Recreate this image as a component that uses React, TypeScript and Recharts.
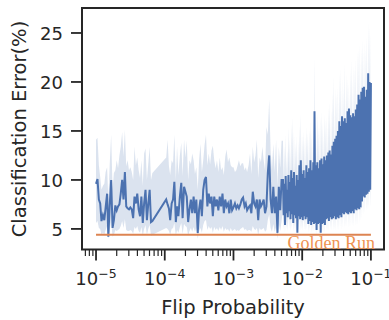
import React from 'react';
import { ComposedChart, Area, Line, XAxis, YAxis, ReferenceLine, ReferenceArea } from 'recharts';

// ---- Flip probability samples (x) ----
const flipDecade5 = [
  1.00e-5, 1.05e-5, 1.10e-5, 1.15e-5, 1.20e-5, 1.26e-5, 1.32e-5, 1.38e-5, 1.45e-5, 1.51e-5,
  1.58e-5, 1.66e-5, 1.74e-5, 1.82e-5, 1.91e-5, 2.00e-5, 2.09e-5, 2.19e-5, 2.29e-5, 2.40e-5,
  2.51e-5, 2.63e-5, 2.75e-5, 2.88e-5, 3.02e-5, 3.16e-5, 3.31e-5, 3.47e-5, 3.63e-5, 3.80e-5,
  3.98e-5, 4.17e-5, 4.37e-5, 4.57e-5, 4.79e-5, 5.01e-5, 5.25e-5, 5.50e-5, 5.75e-5, 6.03e-5,
  6.31e-5, 6.61e-5,
];
const meanDecade5 = [
  9.6, 10.1, 8.0, 7.6, 5.8, 6.4, 5.9, 7.2, 8.6, 4.2,
  7.3, 10.0, 5.1, 5.9, 7.4, 6.9, 7.3, 7.5, 8.6, 10.0,
  8.0, 10.8, 7.3, 7.1, 7.0, 7.2, 7.0, 6.1, 8.3, 7.6,
  8.6, 7.0, 6.3, 8.3, 5.6, 7.6, 9.0, 5.9, 7.5, 9.0,
  5.7, 5.8,
];
const lowDecade5 = [
  5.6, 5.8, 5.1, 5.0, 4.4, 4.6, 4.4, 4.9, 5.3, 4.0,
  4.9, 5.8, 4.2, 4.4, 4.9, 4.8, 4.9, 5.0, 5.3, 5.8,
  5.1, 6.0, 4.9, 4.8, 4.8, 4.9, 4.8, 4.5, 5.2, 5.0,
  5.3, 4.8, 4.6, 5.2, 4.3, 5.0, 5.4, 4.4, 5.0, 5.4,
  4.3, 4.4,
];
const highDecade5 = [
  14.1, 14.3, 11.5, 10.3, 9.0, 9.4, 9.6, 10.8, 11.3, 8.0,
  11.5, 14.6, 9.0, 10.7, 11.0, 12.0, 11.2, 12.5, 13.4, 14.9,
  12.4, 15.1, 11.4, 12.0, 11.0, 11.3, 10.8, 10.0, 13.4, 11.5,
  12.3, 11.0, 10.2, 12.0, 9.4, 12.7, 13.2, 10.0, 11.6, 13.4,
  10.0, 10.7,
];

const flipDecade4 = [
  1.05e-4, 1.10e-4, 1.15e-4, 1.20e-4, 1.26e-4, 1.32e-4, 1.38e-4, 1.45e-4, 1.51e-4, 1.58e-4,
  1.66e-4, 1.74e-4, 1.82e-4, 1.91e-4, 2.00e-4, 2.09e-4, 2.19e-4, 2.29e-4, 2.40e-4, 2.51e-4,
  2.63e-4, 2.75e-4, 2.88e-4, 3.02e-4, 3.16e-4, 3.31e-4, 3.47e-4, 3.63e-4, 3.80e-4, 3.98e-4,
  4.17e-4, 4.37e-4, 4.57e-4, 4.79e-4, 5.01e-4, 5.25e-4, 5.50e-4, 5.75e-4, 6.03e-4, 6.31e-4,
  6.61e-4, 6.92e-4, 7.24e-4, 7.59e-4, 7.94e-4, 8.32e-4, 8.71e-4, 9.12e-4, 9.55e-4,
];
const meanDecade4 = [
  8.0, 7.5, 7.1, 5.9, 7.6, 8.0, 9.8, 5.7, 7.3, 6.3,
  8.3, 9.7, 6.1, 9.3, 8.8, 8.3, 5.7, 7.0, 8.0, 6.6,
  8.3, 6.6, 8.0, 4.6, 7.0, 8.0, 6.3, 9.0, 10.0, 10.3,
  7.3, 8.6, 7.6, 8.3, 6.3, 8.3, 7.3, 8.0, 6.9, 8.3,
  7.3, 8.6, 6.6, 8.0, 7.3, 7.6, 6.6, 8.0, 6.9,
];
const lowDecade4 = [
  5.1, 5.0, 4.8, 4.4, 5.0, 5.1, 5.6, 4.3, 4.9, 4.6,
  5.2, 5.6, 4.5, 5.5, 5.3, 5.2, 4.3, 4.8, 5.1, 4.7,
  5.2, 4.7, 5.1, 4.0, 4.8, 5.1, 4.6, 5.4, 5.8, 5.9,
  4.9, 5.3, 5.0, 5.2, 4.6, 5.2, 4.9, 5.1, 4.8, 5.2,
  4.9, 5.3, 4.7, 5.1, 4.9, 5.0, 4.7, 5.1, 4.8,
];
const highDecade4 = [
  12.3, 14.1, 11.4, 10.5, 12.0, 11.7, 14.6, 10.0, 13.4, 10.5,
  12.5, 13.8, 10.4, 14.1, 12.3, 14.0, 10.0, 12.0, 11.6, 12.7,
  12.0, 10.6, 11.3, 9.0, 12.0, 13.7, 10.8, 12.0, 13.6, 14.6,
  11.5, 12.7, 11.6, 13.0, 13.5, 12.0, 11.2, 12.0, 10.8, 12.3,
  11.0, 11.3, 10.5, 12.4, 13.1, 11.8, 12.3, 11.5, 11.3,
];

const flipDecade3 = [
  1.00e-3, 1.05e-3, 1.10e-3, 1.15e-3, 1.20e-3, 1.26e-3, 1.32e-3, 1.38e-3, 1.45e-3, 1.51e-3,
  1.58e-3, 1.66e-3, 1.74e-3, 1.82e-3, 1.91e-3, 2.00e-3, 2.09e-3, 2.19e-3, 2.29e-3, 2.40e-3,
  2.51e-3, 2.63e-3, 2.75e-3, 2.88e-3, 3.02e-3, 3.16e-3, 3.31e-3, 3.47e-3, 3.63e-3, 3.80e-3,
  3.98e-3, 4.17e-3, 4.37e-3, 4.57e-3, 4.79e-3, 5.01e-3,
  5.25e-3, 5.37e-3, 5.50e-3, 5.62e-3, 5.75e-3, 5.89e-3, 6.03e-3, 6.17e-3, 6.31e-3, 6.46e-3,
  6.61e-3, 6.76e-3, 6.92e-3, 7.08e-3, 7.24e-3, 7.41e-3, 7.59e-3, 7.76e-3, 7.94e-3, 8.13e-3,
  8.32e-3, 8.51e-3, 8.71e-3, 8.91e-3, 9.12e-3, 9.33e-3, 9.55e-3, 9.77e-3,
];
const meanDecade3 = [
  7.2, 7.6, 7.1, 7.4, 7.1, 7.5, 8.0, 8.2, 7.3, 7.6,
  6.9, 7.2, 7.4, 6.6, 8.8, 7.6, 7.3, 8.0, 5.9, 8.0,
  7.3, 7.6, 8.0, 6.6, 7.3, 10.7, 12.5, 8.0, 6.6, 9.3,
  6.6, 8.3, 4.6, 9.3, 6.9, 10.0,
  10.0, 6.4, 9.6, 5.4, 10.4, 6.6, 9.0, 6.2, 10.5, 6.8,
  9.8, 6.0, 11.0, 6.5, 10.2, 5.6, 10.8, 6.4, 9.4, 6.1,
  10.5, 4.6, 10.0, 6.3, 11.5, 6.0, 12.0, 6.2,
];
const lowDecade3 = [
  4.9, 5.0, 4.8, 4.9, 4.8, 5.0, 5.1, 5.2, 4.9, 5.0,
  4.8, 4.9, 4.9, 4.7, 5.3, 5.0, 4.9, 5.1, 4.4, 5.1,
  4.9, 5.0, 5.1, 4.7, 4.9, 5.9, 6.5, 5.1, 4.7, 5.5,
  4.7, 5.2, 4.0, 5.5, 4.8, 5.8,
  7.0, 4.9, 6.8, 4.6, 7.2, 5.0, 6.4, 4.8, 7.3, 5.1,
  7.0, 4.8, 7.6, 5.0, 7.1, 4.7, 7.5, 5.0, 6.6, 4.8,
  7.3, 4.2, 7.0, 4.9, 7.9, 4.8, 8.2, 4.9,
];
const highDecade3 = [
  11.3, 10.8, 11.0, 11.5, 12.0, 11.4, 11.7, 11.7, 11.0, 11.3,
  10.8, 11.5, 12.7, 10.6, 13.4, 11.8, 12.5, 14.1, 10.2, 12.3,
  11.8, 13.4, 12.0, 11.0, 15.4, 14.6, 18.2, 13.0, 11.0, 13.7,
  10.8, 14.1, 9.4, 13.4, 11.2, 14.0,
  14.0, 9.5, 13.5, 8.6, 14.6, 9.8, 13.0, 9.4, 15.4, 10.0,
  14.2, 9.2, 15.8, 9.6, 16.4, 8.9, 15.0, 9.6, 13.8, 9.2,
  14.5, 8.0, 14.0, 9.4, 15.6, 9.1, 16.8, 9.3,
];

const flipDecade2 = [
  1.00e-2, 1.02e-2, 1.05e-2, 1.07e-2, 1.10e-2, 1.12e-2, 1.15e-2, 1.17e-2, 1.20e-2, 1.23e-2,
  1.26e-2, 1.29e-2, 1.32e-2, 1.35e-2, 1.38e-2, 1.41e-2, 1.45e-2, 1.48e-2, 1.51e-2, 1.55e-2,
  1.58e-2, 1.62e-2, 1.66e-2, 1.70e-2, 1.74e-2, 1.78e-2, 1.82e-2, 1.86e-2, 1.91e-2, 1.95e-2,
  2.00e-2, 2.04e-2, 2.09e-2, 2.14e-2, 2.19e-2, 2.24e-2, 2.29e-2, 2.34e-2, 2.40e-2, 2.45e-2,
  2.51e-2, 2.57e-2, 2.63e-2, 2.69e-2, 2.75e-2, 2.82e-2, 2.88e-2, 2.95e-2, 3.02e-2, 3.09e-2,
  3.16e-2, 3.24e-2, 3.31e-2, 3.39e-2, 3.47e-2, 3.55e-2, 3.63e-2, 3.72e-2, 3.80e-2, 3.89e-2,
  3.98e-2, 4.07e-2, 4.17e-2, 4.27e-2, 4.37e-2, 4.47e-2, 4.57e-2, 4.68e-2, 4.79e-2, 4.90e-2,
  5.01e-2, 5.13e-2, 5.25e-2, 5.37e-2, 5.50e-2, 5.62e-2, 5.75e-2, 5.89e-2, 6.03e-2, 6.17e-2,
  6.31e-2, 6.46e-2, 6.61e-2, 6.76e-2, 6.92e-2, 7.08e-2, 7.24e-2, 7.41e-2, 7.59e-2, 7.76e-2,
  7.94e-2, 8.13e-2, 8.32e-2, 8.51e-2, 8.71e-2, 8.91e-2, 9.12e-2, 9.33e-2, 9.55e-2, 9.77e-2,
  1.00e-1,
];
const meanDecade2 = [
  10.6, 5.9, 11.0, 6.3, 10.2, 6.0, 11.5, 6.2, 10.8, 5.5,
  11.2, 5.8, 12.0, 5.4, 11.0, 5.7, 11.8, 5.5, 17.0, 5.6,
  11.5, 4.9, 11.8, 5.5, 11.2, 5.6, 12.0, 4.6, 12.2, 5.5,
  11.6, 5.6, 12.4, 5.4, 12.0, 6.0, 12.5, 6.1, 12.8, 5.8,
  13.0, 6.2, 12.6, 6.0, 13.5, 6.1, 13.9, 6.3, 14.2, 6.0,
  14.5, 6.2, 15.0, 6.1, 16.0, 6.4, 15.5, 6.2, 16.5, 6.6,
  16.0, 6.5, 16.3, 6.7, 15.8, 6.6, 17.0, 6.5, 17.3, 6.7,
  16.6, 6.6, 16.4, 6.8, 16.8, 6.6, 16.5, 7.0, 17.2, 6.9,
  17.7, 7.1, 18.7, 7.0, 18.2, 7.2, 19.0, 7.8, 19.4, 8.3,
  19.5, 8.2, 18.5, 8.5, 19.2, 8.6, 20.9, 8.8, 20.0, 9.0,
  19.9,
];
const lowDecade2 = [
  7.4, 4.8, 7.6, 4.9, 7.2, 4.8, 7.9, 4.9, 7.5, 4.6,
  7.7, 4.7, 8.2, 4.5, 7.6, 4.7, 8.0, 4.6, 11.5, 4.6,
  7.9, 4.3, 8.0, 4.6, 7.7, 4.6, 8.2, 4.1, 8.3, 4.6,
  8.0, 4.6, 8.4, 4.5, 8.2, 4.8, 8.5, 4.8, 8.7, 4.7,
  8.8, 4.9, 8.6, 4.8, 9.2, 4.8, 9.4, 4.9, 9.6, 4.8,
  9.8, 4.9, 10.1, 4.8, 10.8, 5.0, 10.5, 4.9, 11.1, 5.1,
  10.8, 5.0, 11.0, 5.1, 10.7, 5.1, 11.5, 5.0, 11.7, 5.1,
  11.2, 5.1, 11.1, 5.2, 11.3, 5.1, 11.1, 5.3, 11.6, 5.3,
  11.9, 5.4, 12.6, 5.5, 12.3, 5.7, 12.8, 6.0, 13.1, 6.3,
  13.2, 6.5, 12.5, 6.7, 13.0, 6.8, 14.1, 7.0, 13.5, 7.2,
  13.4,
];
const highDecade2 = [
  14.5, 9.0, 15.0, 9.4, 14.4, 9.1, 15.5, 9.3, 14.8, 8.7,
  15.2, 9.0, 16.0, 8.6, 15.0, 8.9, 16.2, 8.7, 22.6, 8.8,
  16.0, 8.2, 17.0, 8.7, 15.5, 8.8, 16.5, 8.0, 17.1, 8.7,
  16.0, 8.8, 16.8, 8.6, 16.2, 9.1, 16.5, 9.2, 17.5, 9.0,
  18.0, 9.3, 17.2, 9.1, 19.0, 9.2, 20.7, 9.4, 19.5, 9.1,
  18.9, 9.3, 19.6, 9.2, 21.0, 9.6, 21.5, 9.3, 20.5, 9.8,
  19.5, 9.7, 22.0, 9.9, 21.0, 9.8, 20.5, 9.7, 20.0, 9.9,
  21.5, 9.8, 22.4, 10.0, 21.8, 9.8, 21.5, 10.2, 22.5, 10.1,
  23.3, 10.3, 23.5, 10.2, 24.0, 10.5, 23.6, 11.0, 24.5, 11.5,
  24.2, 11.4, 23.5, 11.7, 24.8, 11.8, 26.3, 12.0, 25.8, 12.2,
  25.3,
];

// ---- Golden run reference ----
const goldenRunError = 4.4;
const goldenRunRange = [1e-5, 1e-1];
const goldenRunLabel = 'Golden Run';

// ---- Axes ----
const xTicksMajor = [1e-5, 1e-4, 1e-3, 1e-2, 1e-1];
const xTicksMinor = [
  7e-6, 8e-6, 9e-6,
  2e-5, 3e-5, 4e-5, 5e-5, 6e-5, 7e-5, 8e-5, 9e-5,
  2e-4, 3e-4, 4e-4, 5e-4, 6e-4, 7e-4, 8e-4, 9e-4,
  2e-3, 3e-3, 4e-3, 5e-3, 6e-3, 7e-3, 8e-3, 9e-3,
  2e-2, 3e-2, 4e-2, 5e-2, 6e-2, 7e-2, 8e-2, 9e-2,
];
const yTicks = [5, 10, 15, 20, 25];
const xDomain: [number, number] = [6.25e-6, 0.155];
const yDomain: [number, number] = [2.9, 27.55];
const xLabel = 'Flip Probability';
const yLabel = 'Classification Error(%)';

const flipProbability = [...flipDecade5, ...flipDecade4, ...flipDecade3, ...flipDecade2];
const meanError = [...meanDecade5, ...meanDecade4, ...meanDecade3, ...meanDecade2];
const lowerCI = [...lowDecade5, ...lowDecade4, ...lowDecade3, ...lowDecade2];
const upperCI = [...highDecade5, ...highDecade4, ...highDecade3, ...highDecade2];

const data = flipProbability.map((p, i) => ({
  flip: p,
  mean: meanError[i],
  band: [lowerCI[i], upperCI[i]],
}));

const INK = '#262626';
const FONT = '"DejaVu Sans", sans-serif';
const BLUE = '#4c72b0';
const ORANGE = '#dd8452';

const XTick = (props: any) => {
  const { x, y, payload } = props;
  const v = payload.value as number;
  const lg = Math.log10(v);
  const e = Math.round(lg);
  const major = Math.abs(lg - e) < 1e-6;
  return (
    <g>
      <line x1={x} x2={x} y1={y} y2={y + (major ? 11 : 6.5)} stroke={INK} strokeWidth={major ? 1.8 : 1.2} />
      {major && (
        <text x={x} y={y + 35.5} textAnchor="middle" fill={INK} fontFamily={FONT}>
          <tspan fontSize={18}>10</tspan>
          <tspan fontSize={12.5} dy={-7}>{'\u2212' + String(-e)}</tspan>
        </text>
      )}
    </g>
  );
};

const YTick = (props: any) => {
  const { x, y, payload } = props;
  return (
    <g>
      <line x1={x - 11} x2={x} y1={y} y2={y} stroke={INK} strokeWidth={1.8} />
      <text x={x - 19} y={y + 7} textAnchor="end" fill={INK} fontFamily={FONT} fontSize={18}>
        {payload.value}
      </text>
    </g>
  );
};

export default function App() {
  return (
    <div style={{ position: 'absolute', left: 0, top: 0, width: 389, height: 320, background: '#fff' }}>
      <ComposedChart
        width={389}
        height={320}
        data={data}
        margin={{ top: 8, right: 5, bottom: 30.5, left: 22 }}
      >
        <XAxis
          dataKey="flip"
          type="number"
          scale="log"
          domain={xDomain}
          allowDataOverflow
          ticks={[...xTicksMinor, ...xTicksMajor]}
          interval={0}
          tick={<XTick />}
          tickLine={false}
          axisLine={false}
          tickSize={0}
          tickMargin={0}
          height={40}
        />
        <YAxis
          type="number"
          domain={yDomain}
          allowDataOverflow
          ticks={yTicks}
          interval={0}
          tick={<YTick />}
          tickLine={false}
          axisLine={false}
          tickSize={0}
          tickMargin={0}
          width={60}
        />
        <Area
          dataKey="band"
          type="linear"
          stroke="none"
          fill={BLUE}
          fillOpacity={0.2}
          isAnimationActive={false}
          activeDot={false}
        />
        <Line
          dataKey="mean"
          type="linear"
          stroke={BLUE}
          strokeWidth={2}
          dot={false}
          activeDot={false}
          isAnimationActive={false}
        />
        <ReferenceLine
          segment={[
            { x: goldenRunRange[0], y: goldenRunError },
            { x: goldenRunRange[1], y: goldenRunError },
          ]}
          stroke={ORANGE}
          strokeWidth={2}
        />
        <ReferenceArea
          x1={xDomain[0]}
          x2={xDomain[1]}
          y1={yDomain[0]}
          y2={yDomain[1]}
          fill="none"
          fillOpacity={0}
          stroke={INK}
          strokeWidth={2}
        />
      </ComposedChart>
      <svg
        width={389}
        height={320}
        style={{ position: 'absolute', left: 0, top: 0, pointerEvents: 'none' }}
      >
        <text
          x={26}
          y={129}
          transform="rotate(-90 26 129)"
          textAnchor="middle"
          fill={INK}
          fontFamily={FONT}
          fontSize={19.5}
        >
          {yLabel}
        </text>
        <text x={233} y={314} textAnchor="middle" fill={INK} fontFamily={FONT} fontSize={19.5}>
          {xLabel}
        </text>
        <text
          x={375}
          y={248.5}
          textAnchor="end"
          fill="#ee9352"
          fontFamily='"Liberation Serif", "Times New Roman", serif'
          fontSize={18}
        >
          {goldenRunLabel}
        </text>
      </svg>
    </div>
  );
}
